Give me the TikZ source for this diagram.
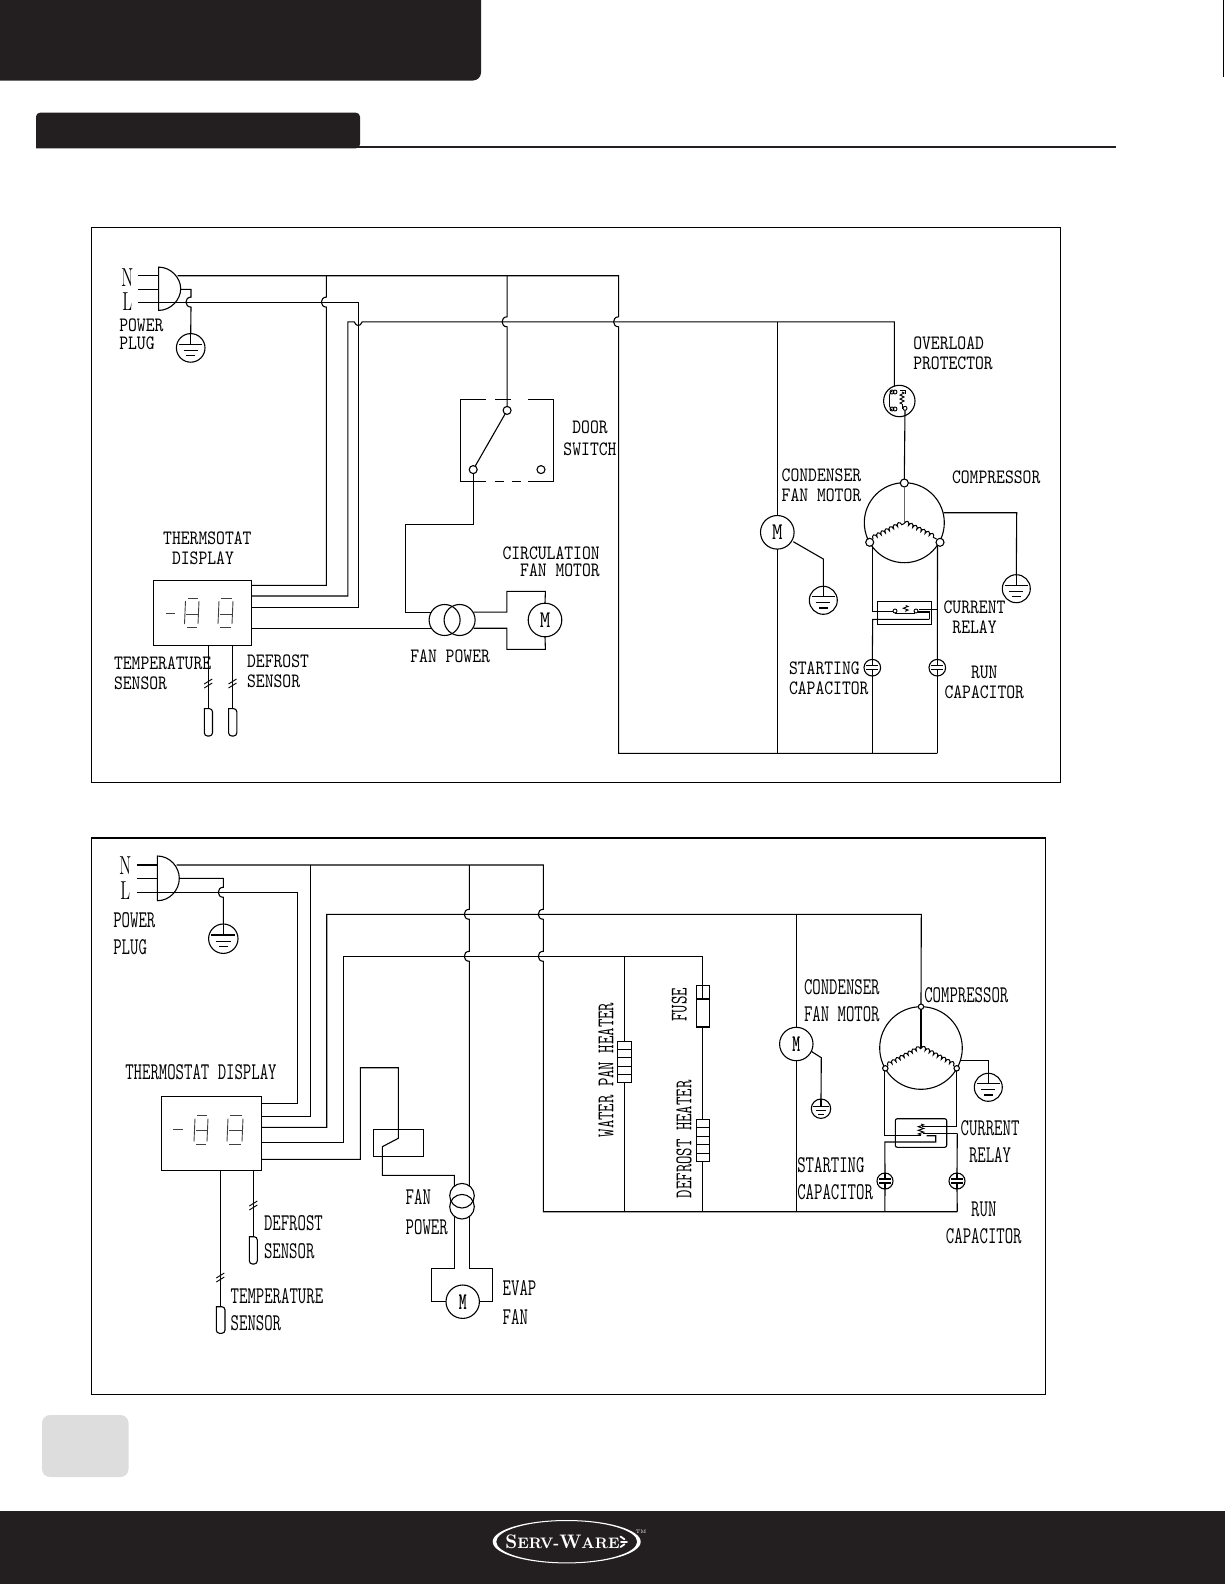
\documentclass[tikz,border=0pt]{standalone}
\usepackage{graphicx}
\usetikzlibrary{decorations.pathmorphing,shapes.geometric}
\definecolor{ink}{HTML}{231F20}
\definecolor{pagegray}{HTML}{DDDDDD}
\def\anl{west}\def\anc{center}\def\anr{east}
\tikzset{
  wire/.style={line width=0.55pt,line join=miter},
  thin wire/.style={line width=0.45pt},
  framebox/.style={line width=0.6pt},
  circ/.style={circle,draw,inner sep=0pt,outer sep=0pt,line width=0.55pt},
  boxn/.style={rectangle,draw,inner sep=0pt,outer sep=0pt,line width=0.55pt},
  lbl/.style={inner sep=0pt,outer sep=0pt,text=black},
  coil/.style={line width=0.5pt,decorate,decoration={bumps,segment length=4.6pt,amplitude=1.7pt}},
  seg/.style={line width=0.45pt,black!75},
}
% labels: first family (top diagram), second family (lower diagram)
\newcommand\labA[6][l]{\pgfmathsetmacro\yy{#4-(.2*#5-6.25)}\pgfmathsetmacro\bb{#5/2}%
 \node[lbl,anchor=\csname an#1\endcsname] (#2) at (#3,\yy) {\fontsize{10.2pt}{\bb pt}\selectfont\ttfamily\scalebox{.825}[1]{\begin{tabular}{@{}#1@{}}#6\end{tabular}}};}
\newcommand\labB[6][l]{\pgfmathsetmacro\yy{#4-(.2*#5-7.35)}\pgfmathsetmacro\bb{#5/2}%
 \node[lbl,anchor=\csname an#1\endcsname] (#2) at (#3,\yy) {\fontsize{12pt}{\bb pt}\selectfont\ttfamily\scalebox{.68}[1]{\begin{tabular}{@{}#1@{}}#6\end{tabular}}};}
\newcommand\labR[4]{\node[lbl,rotate=90] (#1) at (#2,#3) {\fontsize{12pt}{13pt}\selectfont\ttfamily\scalebox{.68}[1]{#4}};}
% the big N and L, one node
\newcommand\pinpair[4]{\pgfmathsetmacro\yy{#3-(.2*#4-8.5)}\pgfmathsetmacro\bb{#4/2}%
 \node[lbl] (#1) at (#2,\yy) {\fontsize{13pt}{\bb pt}\selectfont\scalebox{.62}[1]{\begin{tabular}{@{}c@{}}N\\L\end{tabular}}};}
% hops on a vertical wire, bulging left; on a horizontal wire, bulging down
\def\hopv#1#2{-- (#1,#2-5) .. controls (#1-6.7,#2-5) and (#1-6.7,#2+5) .. (#1,#2+5)}
\def\hoph#1#2{-- (#1-4,#2) .. controls (#1-2,#2+5) and (#1+2,#2+5) .. (#1+4,#2)}
\newcommand\gnd[4]{\node[circ,minimum size=#4pt] (#1) at (#2,#3) {};
 \draw[wire] (#1.north) -- (#2,#3-.25*#4);
 \draw[wire] (#2-.82*#4,#3-.25*#4) -- (#2+.82*#4,#3-.25*#4);
 \draw[wire] (#2-.5*#4,#3+.18*#4) -- (#2+.5*#4,#3+.18*#4);
 \draw[wire] (#2-.3*#4,#3+.55*#4) -- (#2+.3*#4,#3+.55*#4);}
\newcommand\capac[4]{\node[circ,minimum size=#4pt] (#1) at (#2,#3) {};
 \draw[wire] (#2-.72*#4,#3-.25*#4) -- (#2+.72*#4,#3-.25*#4);
 \draw[wire] (#2-.72*#4,#3+.25*#4) -- (#2+.72*#4,#3+.25*#4);
 \draw[wire] (#1.north) -- (#2,#3-.25*#4);
 \draw[wire] (#1.south) -- (#2,#3+.25*#4);}
\newcommand\capsule[4]{\draw[wire,rounded corners=1.6pt] (#1,#3) -- (#1,#4) -- (#2,#4) -- (#2,#3) [sharp corners] -- cycle;}
\newcommand\tick[2]{\draw[thin wire] (#1-4,#2+1) -- (#1+4,#2-4);\draw[thin wire] (#1-4,#2+5) -- (#1+4,#2);}
% seven-segment digit: x0,x1,top bar,mid,bottom
\newcommand\segd[5]{\draw[seg] (#1+3,#3) -- (#2-1,#3);\draw[seg] (#1+1.5,#4) -- (#2-1.5,#4);\draw[seg] (#1+2,#5) -- (#2-2,#5);
 \draw[seg] (#1+1,#3+3) -- (#1,#5-3);\draw[seg] (#2,#3+3) -- (#2-1,#5-3);}
\begin{document}
\begin{tikzpicture}[x=0.5pt,y=-0.5pt]
\useasboundingbox (0,0) rectangle (1225,1585);
% ---------- page furniture
\fill[ink,rounded corners=4pt] (-20,-20) rectangle (481,80.5);
\draw[line width=0.5pt] (1223,0) -- (1223,77);
\fill[ink,rounded corners=2pt] (36,148.3) -- (36,112.7) -- (360,112.7) -- (360,148.3) [sharp corners] -- cycle;
\draw[line width=1pt,ink] (36,147.3) -- (1116,147.3);
\fill[pagegray,rounded corners=4pt] (42,1415) rectangle (128.5,1477);
\fill[ink] (0,1511) rectangle (1225,1584);
\fill[white,even odd rule] (566.7,1541.7) ellipse[x radius=74,y radius=21.7] (566.7,1541.7) ellipse[x radius=70.5,y radius=20.7];
\node[text=white,inner sep=0pt] (logotext) at (562.5,1541.5) {\bfseries\scalebox{.95}[1]{\fontsize{9.8pt}{12pt}\selectfont S\fontsize{7.6pt}{12pt}\selectfont ERV-\fontsize{9.8pt}{12pt}\selectfont W\fontsize{7.6pt}{12pt}\selectfont ARE}};
\draw[white,line width=0.9pt,line cap=round] (620.5,1536.5) -- (624.5,1539.3);
\draw[white,line width=0.9pt,line cap=round] (621,1541.7) -- (627,1541.7);
\draw[white,line width=0.9pt,line cap=round] (620.5,1547) -- (624.5,1544.2);
\node[text=white,inner sep=0pt] (logotm) at (641,1531.5) {\fontsize{2.5pt}{3pt}\selectfont TM};

% ========== TOP DIAGRAM
\node[boxn,framebox,minimum width=484.5pt,minimum height=277.3pt,anchor=north west] (frameA) at (91.5,227.5) {};
% plug
\draw[wire] (158.6,267.1) .. controls (171,267.1) and (180.7,278) .. (180.7,288.7) .. controls (180.7,299.5) and (171,310.4) .. (158.6,310.4) -- cycle;
\coordinate (pA) at (158.6,275.7);
\draw[wire] (138.2,275.7) -- (pA);
\draw[wire] (138.2,289.3) -- (158.6,289.3);
\draw[wire] (138.2,302.1) -- (158.6,302.1);
\pinpair{nlA}{127.3}{289.5}{24}
% nodes
\gnd{gndA}{190.7}{347.9}{14.3}
\node[boxn,minimum width=49.1pt,minimum height=32.5pt,anchor=north west] (dispA) at (153.2,580.4) {};
\draw[seg] (165.7,613.2) -- (175,613.2);
\segd{184.5}{199}{598}{614}{627}
\segd{218}{233}{598}{614}{627}
\node[circ,minimum size=15.5pt] (tA1) at (444.6,620) {};
\node[circ,minimum size=15.5pt] (tA2) at (459.6,620) {};
\node[circ,minimum size=16.8pt] (mA1) at (545,620) {\fontsize{12pt}{13pt}\selectfont\ttfamily\scalebox{.85}[1]{M}};
\node[circ,minimum size=16.8pt] (mA2) at (777.3,532.3) {\fontsize{12pt}{13pt}\selectfont\ttfamily\scalebox{.85}[1]{M}};
\node[circ,minimum size=15.7pt] (ovl) at (899.3,401) {};
\node[circ,minimum size=40pt] (compA) at (904.3,522.7) {};
\node[circ,fill=white,minimum size=4pt] (cAt) at (904.3,483) {};
\node[circ,fill=white,minimum size=4pt] (cAl) at (869.7,542.3) {};
\node[circ,fill=white,minimum size=4pt] (cAr) at (940,542.3) {};
\gnd{gndB}{823.3}{600.3}{14}
\gnd{gndC}{1016.3}{588.7}{14}
\capac{cs1}{872.3}{667.7}{8.3}
\capac{cr1}{937.3}{667.7}{8.3}
\node[boxn,minimum width=27pt,minimum height=11.5pt,anchor=north west] (relA) at (877.7,601.3) {};
\node[circ,minimum size=4pt] (s1) at (507.1,410.4) {};
\node[circ,minimum size=4pt] (s2) at (473.2,469.6) {};
\node[circ,minimum size=4pt] (s3) at (541,469.6) {};
% mains wires
\draw[wire] (177.5,275.7) -- (618.6,275.7) \hopv{618.6}{321.8} -- (618.6,753.3) -- (937.3,753.3);
\draw[wire] (326.4,275.7) \hopv{326.4}{302.1} -- (326.4,585.4) -- (dispA.east |- 0,585.4);
\draw[wire] (158.6,302.1) -- (358.2,302.1) -- (358.2,607.5) -- (dispA.east |- 0,607.5);
\draw[wire] (180.7,289.3) -- (191,289.3) \hopv{191}{302.1} -- (gndA.north);
\draw[wire] (dispA.east |- 0,596) -- (347.9,596) -- (347.9,321.8) \hoph{358.2}{321.8} -- (894.3,321.8) -- (894.3,386);
\draw[wire] (507.1,275.7) \hopv{507.1}{321.8} -- (s1.north);
\draw[wire] (777.3,321.8) -- (mA2.north);
\draw[wire] (mA2.south) -- (777.3,753.3);
% door switch
\coordinate (swTL) at (460.4,399.3);
\draw[wire] (485.7,399.3) -- (swTL) -- (460.4,481.4) -- (485.7,481.4);
\draw[wire] (527.8,399.3) -- (553.6,399.3) -- (553.6,481.4) -- (527.8,481.4);
\draw[wire] (495,399.3) -- (511,399.3);
\draw[wire] (494.6,481.4) -- (503.5,481.4);
\draw[wire] (511.5,481.4) -- (520.5,481.4);
\draw[wire] (s1) -- (s2);
\draw[wire] (s2.south) -- (473.2,524.6) -- (405.4,524.6) -- (405.4,612.1) -- (431,612.1);
\draw[wire] (dispA.east |- 0,628.2) -- (431,628.2);
\draw[wire] (473.5,612.1) -- (506.8,612.1) -- (506.8,591.4) -- (545.4,591.4) -- (mA1.north);
\draw[wire] (473.5,628.2) -- (506.8,628.2) -- (506.8,649.3) -- (545.4,649.3) -- (mA1.south);
% sensors
\draw[thin wire] (208.2,645.4) -- (208.2,708.6);
\draw[thin wire] (232.5,645.4) -- (232.5,708.6);
\tick{208.2}{683}\tick{232.5}{683}
\capsule{204.3}{212.5}{708.6}{736}
\capsule{228.6}{236.8}{708.6}{736}
% overload inner
\draw[thin wire,rounded corners=1pt] (892,391) -- (889.5,393) -- (889.5,408) -- (892,410);
\draw[thin wire] (892,392) circle[radius=2] (895,392) circle[radius=2] (892,409) circle[radius=2] (895,409) circle[radius=2];
\draw[thin wire] (900,390.5) -- (905,390.5) -- (905,394);
\draw[thin wire,decorate,decoration={zigzag,segment length=2pt,amplitude=1pt}] (902,392) -- (902,404);
\draw[thin wire] (902,404) -- (902,408) -- (903,408);
\node[circ,minimum size=2pt,line width=0.45pt] (ovc) at (905,408.3) {};
\draw[wire] (ovc.south) -- (cAt.north);
% compressor
\draw[line width=0.5pt,black!60] (cAt.south) -- (904.3,522.7);
\draw[coil] (873,539) -- (904.3,523.5);
\draw[coil] (904.3,523.5) -- (936.5,539);
\draw[wire] (943.7,512.7) -- (1016.7,512.7) -- (gndC.north);
\draw[wire] (793.3,541.7) -- (823.3,559) -- (gndB.north);
\draw[wire] (872.3,546) -- (872.3,611.7) -- (892.5,611.7);
\draw[wire] (937.5,546) -- (cr1.north);
\draw[wire] (937.5,609.8) -- (918.5,609.8);
\node[circ,minimum size=2pt,line width=0.45pt] (rc1) at (895,611) {};
\node[circ,minimum size=2pt,line width=0.45pt] (rc2) at (916,611) {};
\draw[thin wire] (rc1.south) -- ++(0,.5) -- (914,613.5) -- (rc2.west);
\draw[thin wire,decorate,decoration={zigzag,segment length=1.8pt,amplitude=1.2pt}] (905.7,605.5) -- (905.7,612);
\draw[line width=0.8pt] (917.5,611.8) -- (929.3,611.8) -- (929.3,619.3);
\draw[wire] (929.3,619.3) -- (872.7,619.3) -- (cs1.north);
\draw[wire] (cs1.south) -- (872.3,753.3);
\draw[wire] (cr1.south) -- (937.3,753.3);
% labels
\labA{powerA}{119.3}{334.3}{18}{POWER\\PLUG}
\labA{thermA}{163.2}{548.4}{20.4}{THERMSOTAT\\~DISPLAY}
\labA{tempA}{114}{672.9}{20}{TEMPERATURE\\SENSOR}
\labA{defA}{247.1}{671}{20.4}{DEFROST\\SENSOR}
\labA{fanpA}{410.4}{654.4}{14}{FAN POWER}
\labA{circA}{502.5}{559.8}{13.2}{CIRCULATION\\~~FAN MOTOR}
\labA[c]{doorA}{590}{438.2}{22}{DOOR\\SWITCH}
\labA{ovA}{913.3}{353.7}{20}{OVERLOAD\\PROTECTOR}
\labA{condA}{781.7}{485.5}{20}{CONDENSER\\FAN MOTOR}
\labA{compAl}{952}{475.3}{14}{COMPRESSOR}
\labA[c]{curA}{974.5}{617.3}{20}{CURRENT\\RELAY}
\labA{startA}{789}{678}{20.5}{STARTING\\CAPACITOR}
\labA[c]{runA}{984.3}{682.5}{20}{RUN\\CAPACITOR}

% ========== LOWER DIAGRAM
\node[boxn,framebox,minimum width=477pt,minimum height=278.2pt,anchor=north west] (frameB) at (91.5,838) {};
\draw[wire] (157.3,856) .. controls (170,856) and (179.3,867) .. (179.3,878.3) .. controls (179.3,890) and (170,900.7) .. (157.3,900.7) -- cycle;
\draw[wire] (136.7,865) -- (157.3,865);
\draw[wire] (136.7,878.3) -- (157.3,878.3);
\draw[wire] (136.7,892.3) -- (157.3,892.3);
\pinpair{nlB}{125.4}{877.5}{23}
\gnd{gndD}{223.3}{938.7}{14.7}
\node[boxn,minimum width=50.2pt,minimum height=37pt,anchor=north west] (dispB) at (161.3,1096.3) {};
\draw[seg] (173.3,1129.3) -- (183.3,1129.3);
\segd{194}{208}{1115.5}{1130}{1144.5}
\segd{227}{243}{1115.5}{1130}{1144.5}
\node[circ,minimum size=12.3pt] (tB1) at (462,1195.7) {};
\node[circ,minimum size=12.3pt] (tB2) at (462,1206.7) {};
\node[circ,minimum size=16.7pt] (mB1) at (462.7,1301.7) {\fontsize{12pt}{13pt}\selectfont\ttfamily\bfseries\scalebox{.62}[1]{M}};
\node[circ,minimum size=16.7pt] (mB2) at (796.3,1044) {\fontsize{12pt}{13pt}\selectfont\ttfamily\bfseries\scalebox{.62}[1]{M}};
\node[circ,minimum size=41.3pt] (compB) at (921,1048) {};
\node[circ,fill=white,minimum size=2.7pt] (cBt) at (921,1006.7) {};
\node[circ,fill=white,minimum size=2.7pt] (cBl) at (885.3,1068.3) {};
\node[circ,fill=white,minimum size=2.7pt] (cBr) at (956.7,1068.3) {};
\gnd{gndE}{821}{1108.7}{9.7}
\gnd{gndF}{988.3}{1087.3}{14}
\capac{cs2}{885}{1181}{8}
\capac{cr2}{957}{1181}{8}
\node[boxn,rounded corners=1pt,minimum width=25.7pt,minimum height=14.3pt,anchor=north west] (relB) at (895.3,1118.7) {};
\node[boxn,minimum width=25pt,minimum height=13.5pt,anchor=north west] (swB) at (373.3,1129.3) {};
% wires
\draw[wire] (176.7,865) -- (543.3,865) \hopv{543.3}{914.3} \hopv{543.3}{956.3} -- (543.3,1211.7) -- (957.3,1211.7);
\draw[wire] (310.7,865) -- (310.7,1116.3) -- (dispB.east |- 0,1116.3);
\draw[wire] (157.3,892.3) -- (297.3,892.3) -- (297.3,1103.3) -- (dispB.east |- 0,1103.3);
\draw[wire] (179.3,878.3) -- (223.3,878.3) \hopv{223.3}{892.3} -- (gndD.north);
\draw[wire] (dispB.east |- 0,1127.3) -- (326.7,1127.3) -- (326.7,914.3) -- (921.3,914.3) -- (cBt.north);
\draw[wire] (dispB.east |- 0,1142.3) -- (343.3,1142.3) -- (343.3,956.3) -- (702.7,956.3) -- (702.7,999);
\draw[wire] (469.3,865) \hopv{469.3}{914.3} \hopv{469.3}{956.3} -- (469.3,1186);
\draw[wire] (dispB.east |- 0,1159.3) -- (360.3,1159.3) -- (360.3,1067.7) -- (398.3,1067.7) -- (398.3,1138.3) -- (382.3,1146.7) -- (382.3,1175.3) -- (454.3,1175.3) -- (454.3,1186);
\draw[wire] (454.3,1216) -- (454.3,1268.3) -- (431.7,1268.3) -- (431.7,1301.7) -- (mB1.west);
\draw[wire] (469.3,1216) -- (469.3,1268.3) -- (492.3,1268.3) -- (492.3,1301.7) -- (mB1.east);
% sensors
\draw[thin wire] (220.3,1170.3) -- (220.3,1306.7);
\draw[thin wire] (253.3,1170.3) -- (253.3,1236.7);
\tick{220.3}{1277}\tick{253.3}{1205}
\capsule{216.3}{225}{1306.7}{1333.3}
\capsule{249.3}{257.3}{1236.7}{1264}
% heaters
\draw[wire] (624.3,956.3) -- (624.3,1041.3);
\draw[wire] (624.3,1082.7) -- (624.3,1211.7);
\node[boxn,minimum width=7pt,minimum height=20.7pt,anchor=north west] (wp) at (617.3,1041.3) {};
\foreach \yy in {1049.6,1057.9,1066.2,1074.5} \draw[wire] (617.3,\yy) -- (631.3,\yy);
\node[boxn,minimum width=6.3pt,minimum height=20.85pt,anchor=north west] (fuse) at (696.7,985.3) {};
\draw[wire] (696.7,999) -- (709.3,999);
\draw[wire] (702.7,1027) -- (702.7,1119.3);
\node[boxn,minimum width=6.3pt,minimum height=21.2pt,anchor=north west] (dh) at (696.7,1119.3) {};
\foreach \yy in {1127.8,1136.3,1144.8,1153.3} \draw[wire] (696.7,\yy) -- (709.3,\yy);
\draw[wire] (702.7,1161.7) -- (702.7,1211.7);
% condenser fan
\draw[wire] (796.3,914.3) -- (mB2.north);
\draw[wire] (mB2.south) -- (796.3,1211.7);
\draw[wire] (811.5,1051.5) -- (821.3,1057.7) -- (gndE.north);
% compressor
\draw[wire] (cBt.south) -- (921,1048);
\draw[coil] (888,1066) -- (921,1048.5);
\draw[coil] (921,1048.5) -- (954,1066);
\draw[wire] (960.7,1060.3) -- (988.3,1060.3) -- (gndF.north);
\draw[wire] (884.5,1071) -- (884.5,1135.7) -- (921,1135.7);
\draw[wire] (956.7,1071) -- (956.7,1126.7) -- (921.7,1126.7);
\draw[wire] (957.3,1133.3) -- (923.3,1133.3);
\draw[wire] (cs2.north) -- (884.8,1142) -- (935.7,1142) -- (935.7,1135.7) -- (926.7,1135.7);
\draw[wire] (cs2.south) -- (884.8,1211.7);
\draw[wire] (957.3,1133.3) -- (cr2.north);
\draw[wire] (cr2.south) -- (957.3,1211.7);
\draw[thin wire,decorate,decoration={zigzag,segment length=1.8pt,amplitude=1.4pt}] (921,1124) -- (921,1135);
% labels
\labB{powerB}{113.3}{933.7}{27.3}{POWER\\PLUG}
\labB{thermB}{125.3}{1069.7}{14}{THERMOSTAT DISPLAY}
\labB{defB}{264}{1236.7}{28}{DEFROST\\SENSOR}
\labB{tempB}{230.7}{1309.2}{27}{TEMPERATURE\\SENSOR}
\labB{fanB}{405.7}{1211.7}{30}{FAN\\POWER}
\labB{evapB}{502.7}{1302.5}{29.7}{EVAP\\FAN}
\labB{condB}{804}{1000.5}{27.7}{CONDENSER\\FAN MOTOR}
\labB{compBl}{924.3}{993}{14}{COMPRESSOR}
\labB[c]{curB}{990}{1141.3}{27.3}{CURRENT\\RELAY}
\labB{startB}{797.3}{1178.3}{26.7}{STARTING\\CAPACITOR}
\labB[c]{runB}{983.8}{1222.7}{26.7}{RUN\\CAPACITOR}
\labR{waterB}{606}{1070}{WATER PAN HEATER}
\labR{fuseB}{679.3}{1004.7}{FUSE}
\labR{defhB}{684}{1139.2}{DEFROST HEATER}
\end{tikzpicture}
\end{document}
